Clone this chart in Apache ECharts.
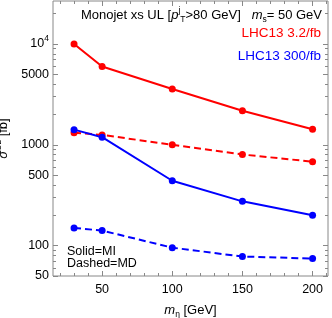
<!DOCTYPE html>
<html>
<head>
<meta charset="utf-8">
<script src="https://cdn.jsdelivr.net/npm/echarts@6/dist/echarts.min.js"></script>
<style>
html,body{margin:0;padding:0;background:#fff;}
#c{width:332px;height:318px;}
</style>
</head>
<body>
<div id="c"></div>
<script>
const masses = [30, 50, 100, 150, 200];
const redSolid = [10000, 5980, 3580, 2180, 1430];
const redDashed = [1320, 1255, 1000, 802, 680];
const blueSolid = [1415, 1190, 440, 275, 200];
const blueDashed = [150, 141, 95.5, 78, 74.5];
const yMajor = [50, 100, 500, 1000, 5000, 10000];
const yMinor = [60, 70, 80, 90, 200, 300, 400, 600, 700, 800, 900, 2000, 3000, 4000, 6000, 7000, 8000, 9000, 20000];
const xMajor = [50, 100, 150, 200];
const xMinor = [20, 30, 40, 60, 70, 80, 90, 110, 120, 130, 140, 160, 170, 180, 190, 210];

const FONT = '"Liberation Sans", Arial, sans-serif';
const X_MIN = 15, X_MAX = 211, Y_MIN = 50, Y_MAX = 26700;
const frame = '#888';

function pairs(ys) { return masses.map((m, i) => [m, ys[i]]); }

function xAx(pos, ticks, len, labels) {
  return {
    type: 'value', position: pos, min: X_MIN, max: X_MAX,
    axisLine: {show: false}, splitLine: {show: false},
    axisTick: {show: true, inside: true, length: len, customValues: ticks, lineStyle: {color: frame}},
    axisLabel: labels ? {show: true, customValues: xMajor, color: '#000', fontSize: 12.5, fontFamily: FONT, margin: 7} : {show: false}
  };
}
function yAx(pos, ticks, len, labels) {
  return {
    type: 'log', logBase: 10, position: pos, min: Y_MIN, max: Y_MAX,
    axisLine: {show: false}, splitLine: {show: false}, minorTick: {show: false},
    axisTick: {show: true, inside: true, length: len, customValues: ticks, lineStyle: {color: frame}},
    axisLabel: labels ? {
      show: true, customValues: yMajor, color: '#000', fontSize: 12.5, fontFamily: FONT, margin: 4,
      formatter: v => (Math.abs(v - 10000) < 1 ? '{b|10}{sup|4}' : String(Math.round(v))),
      rich: {b: {fontSize: 12.5, fontFamily: FONT, color: '#000'}, sup: {fontSize: 8.5, fontFamily: FONT, color: '#000', verticalAlign: 'top', lineHeight: 20}}
    } : {show: false}
  };
}

const chart = echarts.init(document.getElementById('c'));
const xAxes = [xAx('bottom', xMajor, 5, true), xAx('bottom', xMinor, 3, false), xAx('top', xMajor, 5, false), xAx('top', xMinor, 3, false)];
xAxes[0].name = '{i|m}{sub|η} [GeV]';
xAxes[0].nameLocation = 'middle';
xAxes[0].nameGap = 25;
xAxes[0].nameTextStyle = {color: '#000', fontSize: 13, fontFamily: FONT,
  rich: {i: {fontStyle: 'italic', fontSize: 13, fontFamily: FONT, color: '#000'}, sub: {fontSize: 8.5, fontFamily: FONT, color: '#000', verticalAlign: 'bottom', lineHeight: 18}}};
const yAxes = [yAx('left', yMajor, 5, true), yAx('left', yMinor, 3, false), yAx('right', yMajor, 5, false), yAx('right', yMinor, 3, false)];
yAxes[0].name = '{s|σ}{sup|UL} [fb]';
yAxes[0].nameLocation = 'middle';
yAxes[0].nameGap = 36;
yAxes[0].nameTextStyle = {color: '#000', fontSize: 13, fontFamily: FONT,
  rich: {s: {fontStyle: 'italic', fontSize: 13, fontFamily: FONT, color: '#000'}, sup: {fontSize: 8.5, fontFamily: FONT, color: '#000', verticalAlign: 'top', lineHeight: 20}}};

function ser(name, ys, color, dashed) {
  return {
    name, type: 'line', xAxisIndex: 0, yAxisIndex: 0, data: pairs(ys),
    symbol: 'circle', symbolSize: 7, showSymbol: true,
    itemStyle: {color}, lineStyle: {color, width: 2, type: dashed ? [7, 4] : 'solid'},
    animation: false
  };
}

chart.setOption({
  animation: false,
  grid: {left: 53, right: 4, top: 1, bottom: 42, show: true, borderColor: frame, borderWidth: 1, containLabel: false, outerBoundsMode: 'none'},
  xAxis: xAxes,
  yAxis: yAxes,
  series: [
    ser('rs', redSolid, '#ff0000', false),
    ser('rd', redDashed, '#ff0000', true),
    ser('bs', blueSolid, '#0000ff', false),
    ser('bd', blueDashed, '#0000ff', true)
  ],
  graphic: [
    {type: 'text', right: 10, top: 6, style: {
      text: 'Monojet xs UL [{i|p}{sup|j}{sub|T}>80 GeV]   {i|m}{sub|s}= 50 GeV',
      font: '13px ' + FONT, fill: '#000',
      rich: {
        i: {fontStyle: 'italic', fontSize: 13, fontFamily: FONT, fill: '#000'},
        sup: {fontSize: 8.5, fontFamily: FONT, fill: '#000', verticalAlign: 'top', lineHeight: 18},
        sub: {fontSize: 8.5, fontFamily: FONT, fill: '#000', verticalAlign: 'bottom', lineHeight: 18}
      }}},
    {type: 'text', right: 11, top: 26, style: {text: 'LHC13 3.2/fb', font: '13.5px ' + FONT, fill: '#ff0000'}},
    {type: 'text', right: 11, top: 49, style: {text: 'LHC13 300/fb', font: '13.5px ' + FONT, fill: '#0000ff'}},
    {type: 'text', left: 67, top: 245, style: {text: 'Solid=MI', font: '12.5px ' + FONT, fill: '#000'}},
    {type: 'text', left: 67, top: 257, style: {text: 'Dashed=MD', font: '12.5px ' + FONT, fill: '#000'}}
  ]
});
</script>
</body>
</html>
